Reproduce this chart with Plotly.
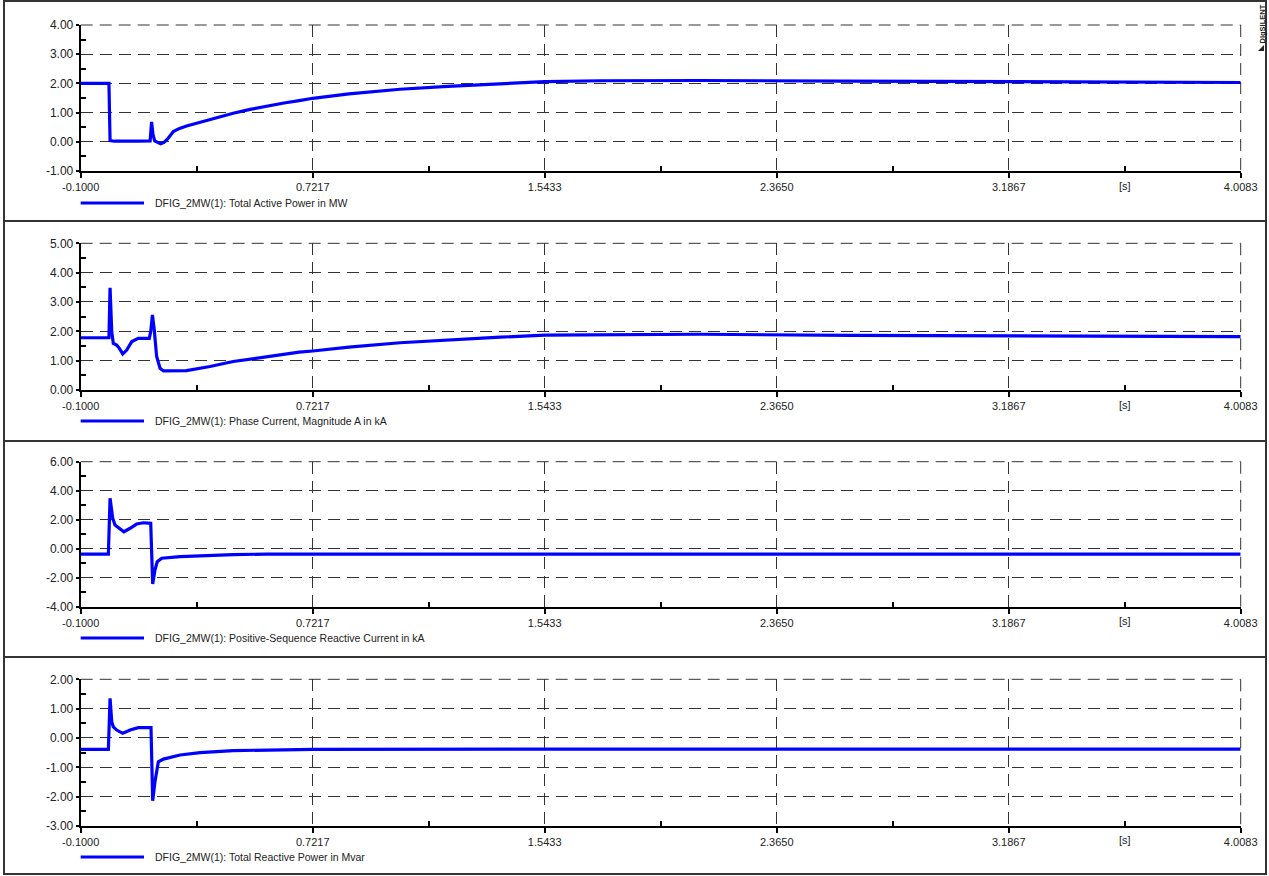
import plotly.graph_objects as go

W, H = 1269, 876

# ---------------- data ----------------
t_p = [-0.1, 0.0, 0.004, 0.02, 0.1, 0.146, 0.151, 0.156, 0.162, 0.172, 0.183, 0.195,
       0.21, 0.228, 0.25, 0.275, 0.323, 0.38, 0.44, 0.5, 0.559, 0.62, 0.674, 0.722,
       0.85, 1.031, 1.2, 1.386, 1.5433, 1.74, 2.094, 2.6, 3.156, 3.6, 4.0083]
p_mw = [2.0, 2.0, 0.04, 0.02, 0.02, 0.03, 0.68, 0.25, 0.03, -0.03, -0.07, -0.02,
        0.12, 0.35, 0.46, 0.54, 0.67, 0.83, 0.98, 1.11, 1.23, 1.33, 1.41, 1.49,
        1.64, 1.80, 1.90, 1.98, 2.06, 2.09, 2.10, 2.08, 2.06, 2.04, 2.03]

t_i = [-0.1, 0.0, 0.004, 0.010, 0.0155, 0.0275, 0.037, 0.049, 0.063, 0.081, 0.104,
       0.143, 0.148, 0.154, 0.160, 0.169, 0.181, 0.193, 0.275, 0.323, 0.358, 0.44,
       0.559, 0.674, 0.722, 0.85, 1.031, 1.2, 1.386, 1.5433, 1.74, 1.98, 2.094, 2.625,
       3.156, 4.0083]
i_ka = [1.78, 1.78, 3.48, 1.99, 1.59, 1.53, 1.42, 1.23, 1.36, 1.65, 1.76,
        1.76, 1.99, 2.56, 2.10, 1.14, 0.74, 0.65, 0.66, 0.74, 0.80, 0.97,
        1.14, 1.29, 1.33, 1.46, 1.61, 1.71, 1.80, 1.87, 1.89, 1.90, 1.90, 1.86,
        1.84, 1.82]

t_iq = [-0.1, -0.002, 0.004, 0.0134, 0.0215, 0.039, 0.053, 0.075, 0.098, 0.122, 0.148,
        0.155, 0.163, 0.171, 0.187, 0.252, 0.323, 0.44, 0.559, 0.722, 1.5433, 2.365,
        3.1867, 4.0083]
iq_ka = [-0.37, -0.37, 3.48, 2.10, 1.63, 1.34, 1.17, 1.41, 1.70, 1.79, 1.75,
         -2.43, -1.47, -0.90, -0.66, -0.55, -0.48, -0.41, -0.37, -0.37, -0.37, -0.37,
         -0.37, -0.37]

t_q = [-0.1, -0.002, 0.004, 0.010, 0.0155, 0.0275, 0.049, 0.075, 0.104, 0.149, 0.155,
       0.163, 0.175, 0.193, 0.252, 0.323, 0.44, 0.559, 0.722, 1.5433, 2.365, 3.1867, 4.0083]
q_mvar = [-0.39, -0.39, 1.35, 0.55, 0.38, 0.27, 0.16, 0.27, 0.35, 0.35, -2.14,
          -1.49, -0.81, -0.72, -0.58, -0.50, -0.43, -0.41, -0.39, -0.38, -0.38, -0.38, -0.38]

x_ticks = [-0.1, 0.7217, 1.5433, 2.365, 3.1867, 4.0083]
x_ticktext = ["-0.1000", "0.7217", "1.5433", "2.3650", "3.1867", "4.0083"]
x_minor = [0.31085, 1.1325, 1.95415, 2.77585, 3.5975]
x_unit_label = "[s]"
x_unit_pos = 3.5975

panels = [
    dict(t=t_p, y=p_mw, rng=[-1, 4], ticks=[-1, 0, 1, 2, 3, 4],
         label="DFIG_2MW(1): Total Active Power in MW"),
    dict(t=t_i, y=i_ka, rng=[0, 5], ticks=[0, 1, 2, 3, 4, 5],
         label="DFIG_2MW(1): Phase Current, Magnitude A in kA"),
    dict(t=t_iq, y=iq_ka, rng=[-4, 6], ticks=[-4, -2, 0, 2, 4, 6],
         label="DFIG_2MW(1): Positive-Sequence Reactive Current in kA"),
    dict(t=t_q, y=q_mvar, rng=[-3, 2], ticks=[-3, -2, -1, 0, 1, 2],
         label="DFIG_2MW(1): Total Reactive Power in Mvar"),
]

# ---------------- layout geometry (pixels) ----------------
plot_left, plot_right = 80.7, 1240.7
plot_tb = [(25, 171), (243.3, 390), (461.7, 606.7), (679.3, 826)]
label_y = [186, 405, 621, 840]
legend_y = [203, 421, 638, 857]
separators = [221, 441, 657]
border = (4, 1, 1266, 874)


def px(x):
    return x / W


def py(y):
    return 1 - y / H


FONT = "Liberation Sans, Arial, sans-serif"
BLUE = "#0000FF"
GRID = "#333333"
DASH = "12px,7px"

fig = go.Figure()
layout = dict(
    width=W, height=H, margin=dict(l=0, r=0, t=0, b=0, pad=0, autoexpand=False),
    paper_bgcolor="white", plot_bgcolor="white", showlegend=False,
    font=dict(family=FONT, size=11, color="#222222"),
)
shapes = []
annotations = []

for k, pn in enumerate(panels):
    n = k + 1
    xa = "x" if n == 1 else f"x{n}"
    ya = "y" if n == 1 else f"y{n}"
    fig.add_trace(go.Scatter(x=pn["t"], y=pn["y"], mode="lines", xaxis=xa, yaxis=ya,
                             line=dict(color=BLUE, width=3.2), hoverinfo="skip"))
    top, bot = plot_tb[k]
    step = pn["ticks"][1] - pn["ticks"][0]
    layout[f"xaxis{'' if n == 1 else n}"] = dict(
        domain=[px(plot_left), px(plot_right)], anchor=ya, range=[-0.1, 4.0083],
        automargin=False,
        tickvals=x_ticks, ticktext=x_ticktext, ticks="outside", ticklen=5, tickwidth=1.5,
        tickcolor="black", showline=True, linecolor="black", linewidth=2,
        showgrid=True, gridcolor=GRID, gridwidth=1, griddash=DASH,
        zeroline=False, tickfont=dict(size=11, color="#222222", family=FONT),
        minor=dict(tickvals=x_minor, ticks="inside", ticklen=5, tickcolor="black",
                   tickwidth=1.5, showgrid=False),
        fixedrange=True, layer="below traces",
    )
    layout[f"yaxis{'' if n == 1 else n}"] = dict(
        domain=[py(bot), py(top)], anchor=xa, range=pn["rng"],
        automargin=False,
        tickvals=pn["ticks"], ticktext=[f"{v:.2f}" for v in pn["ticks"]],
        ticks="outside", ticklen=3, tickcolor="black", tickwidth=1.5,
        showline=True, linecolor="black", linewidth=2,
        showgrid=True, gridcolor=GRID, gridwidth=1, griddash=DASH,
        zeroline=False, tickfont=dict(size=12, color="#222222", family=FONT),
        minor=dict(tickvals=[v + step / 2 for v in pn["ticks"][:-1]], ticks="inside",
                   ticklen=5, tickcolor="black", tickwidth=1.5, showgrid=False),
        fixedrange=True,
    )
    # dashed frame on the top and right edges of the plot area
    shapes.append(dict(type="line", xref=f"{xa} domain", yref=f"{ya} domain",
                       x0=0, x1=1, y0=1, y1=1, layer="below",
                       line=dict(color=GRID, width=1, dash=DASH)))
    shapes.append(dict(type="line", xref=f"{xa} domain", yref=f"{ya} domain",
                       x0=1, x1=1, y0=1, y1=0, layer="below",
                       line=dict(color=GRID, width=1, dash=DASH)))
    # unit label "[s]"
    annotations.append(dict(x=x_unit_pos, xref=xa, y=py(label_y[k]), yref="paper",
                            text=x_unit_label, showarrow=False, xanchor="center",
                            yanchor="middle", font=dict(size=11, color="#222222")))
    # legend entry
    shapes.append(dict(type="line", xref="paper", yref="paper",
                       x0=px(80.7), x1=px(144), y0=py(legend_y[k]), y1=py(legend_y[k]),
                       line=dict(color=BLUE, width=3)))
    annotations.append(dict(x=px(152.7), y=py(legend_y[k]), xref="paper", yref="paper",
                            text=pn["label"], showarrow=False, xanchor="left",
                            yanchor="middle", font=dict(size=10.5, color="#222222")))

# panel frame and separators
bx0, by0, bx1, by1 = border
shapes.append(dict(type="rect", xref="paper", yref="paper", x0=px(bx0), x1=px(bx1),
                   y0=py(by1), y1=py(by0), line=dict(color="#333333", width=2)))
for s in separators:
    shapes.append(dict(type="line", xref="paper", yref="paper", x0=px(bx0), x1=px(bx1),
                       y0=py(s), y1=py(s), line=dict(color="#333333", width=2)))

# DIgSILENT logo
annotations.append(dict(x=px(1261.5), y=py(24), xref="paper", yref="paper",
                        text="<b>DIgSILENT</b>", textangle=-90, showarrow=False,
                        xanchor="center", yanchor="middle",
                        font=dict(size=7.5, color="#222222")))
shapes.append(dict(type="path", xref="paper", yref="paper",
                   path=f"M {px(1258)},{py(51)} L {px(1264)},{py(45)} L {px(1264)},{py(51)} Z",
                   fillcolor="#222222", line=dict(width=0)))

layout["shapes"] = shapes
layout["annotations"] = annotations
fig.update_layout(**layout)
fig.write_html("out.html")
